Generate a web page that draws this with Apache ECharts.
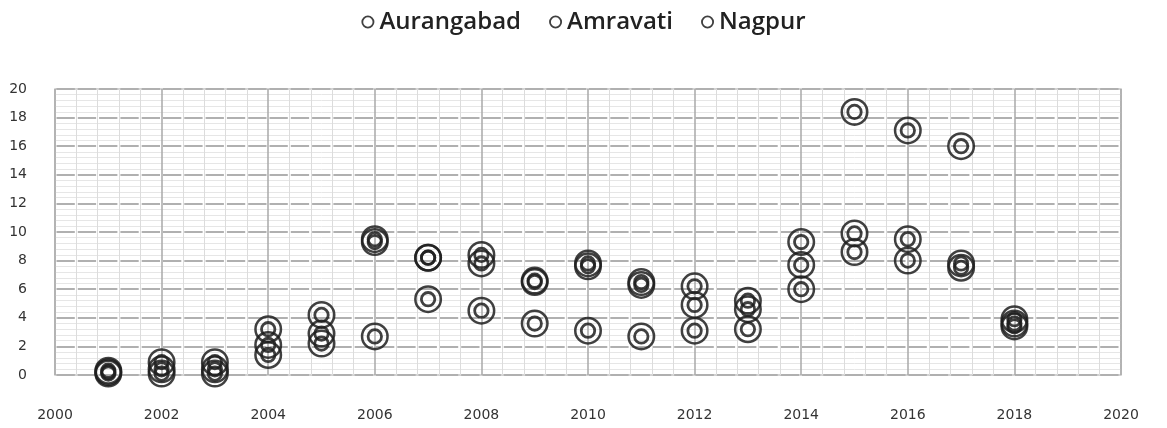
<!DOCTYPE html>
<html>
<head>
<meta charset="utf-8">
<script src="https://cdn.jsdelivr.net/npm/echarts@6/dist/echarts.min.js"></script>
<style>
  html, body { margin: 0; padding: 0; background: #fff; }
  #main { width: 1167px; height: 428px; }
</style>
</head>
<body>
<div id="main"></div>
<script>
// values
const years = [2001, 2002, 2003, 2004, 2005, 2006, 2007, 2008, 2009, 2010, 2011, 2012, 2013, 2014, 2015, 2016, 2017, 2018];
const aurangabad = [0.3, 0.9, 0.9, 3.2, 4.2, 9.5, 8.2, 8.4, 6.6, 7.8, 6.5, 6.2, 5.2, 9.3, 18.4, 17.1, 16.0, 3.9];
const amravati = [0.2, 0.4, 0.4, 2.1, 2.9, 9.3, 8.2, 7.8, 6.5, 7.6, 6.3, 4.9, 4.6, 7.7, 9.9, 9.5, 7.8, 3.6];
const nagpur = [0.1, 0.1, 0.1, 1.4, 2.2, 2.7, 5.3, 4.5, 3.6, 3.1, 2.7, 3.1, 3.2, 6.0, 8.6, 8.0, 7.5, 3.4];
const seriesNames = ["Aurangabad", "Amravati", "Nagpur"];

// double ring marker (outer + inner annulus)
const ringSymbol =
  "path://M50,0 A50,50 0 1,1 50,100 A50,50 0 1,1 50,0 Z " +
  "M50,9 A41,41 0 1,0 50,91 A41,41 0 1,0 50,9 Z " +
  "M50,21 A29,29 0 1,1 50,79 A29,29 0 1,1 50,21 Z " +
  "M50,31 A19,19 0 1,0 50,69 A19,19 0 1,0 50,31 Z";
const legendIcon =
  "path://M50,0 A50,50 0 1,1 50,100 A50,50 0 1,1 50,0 Z " +
  "M50,14 A36,36 0 1,0 50,86 A36,36 0 1,0 50,14 Z";

const toPoints = (vals) => years.map((y, i) => [y, vals[i]]);

const chart = echarts.init(document.getElementById("main"));
chart.setOption({
  animation: false,
  legend: {
    data: seriesNames,
    top: 5,
    left: "center",
    icon: legendIcon,
    itemWidth: 13,
    itemHeight: 13,
    itemGap: 28,
    textStyle: {
      fontFamily: "Open Sans",
      fontSize: 24,
      fontWeight: 600,
      color: "#222",
    },
  },
  grid: {
    left: 55,
    right: 46,
    top: 89,
    bottom: 53,
    show: true,
    borderColor: "#c4c4c4",
    borderWidth: 1.5,
  },
  xAxis: {
    type: "value",
    min: 2000,
    max: 2020,
    interval: 2,
    axisLine: { show: false },
    axisTick: { show: false },
    axisLabel: {
      margin: 33,
      fontFamily: "DejaVu Sans",
      fontSize: 14,
      color: "#333",
      formatter: (v) => String(v),
    },
    splitLine: { show: true, lineStyle: { color: "#a8a8a8", width: 1.5 } },
    minorTick: { show: false, splitNumber: 5 },
    minorSplitLine: { show: true, lineStyle: { color: "#dcdcdc", width: 1 } },
  },
  yAxis: {
    type: "value",
    min: 0,
    max: 20,
    interval: 2,
    axisLine: { show: false },
    axisTick: { show: false },
    axisLabel: {
      margin: 28,
      fontFamily: "DejaVu Sans",
      fontSize: 14,
      color: "#333",
    },
    splitLine: {
      show: true,
      lineStyle: { color: "#b0b0b0", width: 2, type: [18.3, 3], dashOffset: 19.8 },
    },
    minorTick: { show: false, splitNumber: 5 },
    minorSplitLine: { show: true, lineStyle: { color: "#e6e6e6", width: 1 } },
  },
  series: [
    { name: "Aurangabad", data: toPoints(aurangabad) },
    { name: "Amravati", data: toPoints(amravati) },
    { name: "Nagpur", data: toPoints(nagpur) },
  ].map((s) => ({
    ...s,
    type: "scatter",
    symbol: ringSymbol,
    symbolSize: 28,
    itemStyle: { color: "#1e1e1e", opacity: 0.85 },
  })),
});
</script>
</body>
</html>
